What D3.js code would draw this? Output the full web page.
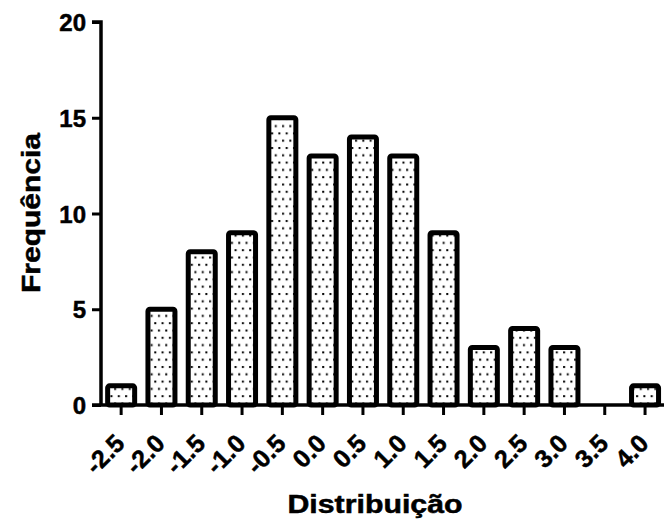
<!DOCTYPE html>
<html>
<head>
<meta charset="utf-8">
<script src="https://cdn.jsdelivr.net/npm/d3@7"></script>
<style>
  body { margin: 0; background: #fff; }
  text { font-family: "Liberation Sans", Arial, sans-serif; font-weight: bold; stroke: #000; stroke-width: 0.5px; }
</style>
</head>
<body>
<script>
const categories = ["-2.5","-2.0","-1.5","-1.0","-0.5","0.0","0.5","1.0","1.5","2.0","2.5","3.0","3.5","4.0"];
const counts = [1, 5, 8, 9, 15, 13, 14, 13, 9, 3, 4, 3, 0, 1];
const yTicks = [0, 5, 10, 15, 20];

const width = 664, height = 526;
const mLeft = 101, mBottom = 405, mTop = 22;

const data = categories.map((c, i) => ({cat: c, n: counts[i]}));

const svg = d3.select('body')
        .append('svg')
        .attr('width', width)
        .attr('height', height);

// dotted fill, staggered rows
const pat = svg.append('defs').append('pattern')
        .attr('id', 'dots')
        .attr('patternUnits', 'userSpaceOnUse')
        .attr('width', 7.3)
        .attr('height', 14.6);
pat.append('rect').attr('width', 7.3).attr('height', 14.6).attr('fill', '#fff');
pat.append('rect').attr('x', 1).attr('y', 1).attr('width', 2).attr('height', 2).attr('fill', '#000');
pat.append('rect').attr('x', 4.65).attr('y', 8.3).attr('width', 2).attr('height', 2).attr('fill', '#000');

const x = d3.scaleBand()
        .domain(categories)
        .range([mLeft, mLeft + 14 * 40.3])
        .paddingInner(0.33)
        .paddingOuter(0.165);

const y = d3.scaleLinear()
        .domain([0, 20])
        .range([mBottom, mTop]);

svg.selectAll('rect.bar')
        .data(data.filter(d => d.n > 0))
        .enter()
        .append('rect')
        .attr('class', 'bar')
        .attr('x', d => x(d.cat))
        .attr('y', d => y(d.n))
        .attr('width', x.bandwidth())
        .attr('height', d => y(0) - y(d.n))
        .attr('rx', 2)
        .attr('fill', 'url(#dots)')
        .attr('stroke', '#000')
        .attr('stroke-width', 5);

// y axis
const yAxis = d3.axisLeft(y)
        .tickValues(yTicks)
        .tickSize(9)
        .tickPadding(6);

const gy = svg.append('g')
        .attr('transform', "translate(" + mLeft + ",0)")
        .call(yAxis);
gy.select('.domain').attr('d', "M-9," + mTop + "H0V" + mBottom).attr('stroke-width', 3.5);
gy.selectAll('.tick line').attr('stroke-width', 3);
gy.selectAll('.tick text').attr('font-size', 24).attr('fill', '#000').attr('dy', '0.36em');

// x axis
const xAxis = d3.axisBottom(x)
        .tickSize(10)
        .tickFormat('');

const gx = svg.append('g')
        .attr('transform', "translate(0," + mBottom + ")")
        .call(xAxis);
gx.select('.domain').attr('d', "M92,0H664").attr('stroke-width', 3.5);
gx.selectAll('.tick line').attr('stroke-width', 3);

svg.append('g')
        .selectAll('text')
        .data(categories)
        .enter()
        .append('text')
        .attr('transform', d => "translate(" + (x(d) + x.bandwidth() / 2 + 5) + "," + (mBottom + 40) + ") rotate(-45)")
        .attr('text-anchor', 'end')
        .attr('font-size', 25)
        .text(d => d);

svg.append('text')
        .attr('x', 375)
        .attr('y', 513)
        .attr('text-anchor', 'middle')
        .attr('font-size', 25)
        .attr('textLength', 175)
        .attr('lengthAdjust', 'spacingAndGlyphs')
        .text('Distribuição');

svg.append('text')
        .attr('transform', "translate(40,213) rotate(-90)")
        .attr('text-anchor', 'middle')
        .attr('font-size', 25)
        .attr('textLength', 160)
        .attr('lengthAdjust', 'spacingAndGlyphs')
        .text('Frequência');
</script>
</body>
</html>
